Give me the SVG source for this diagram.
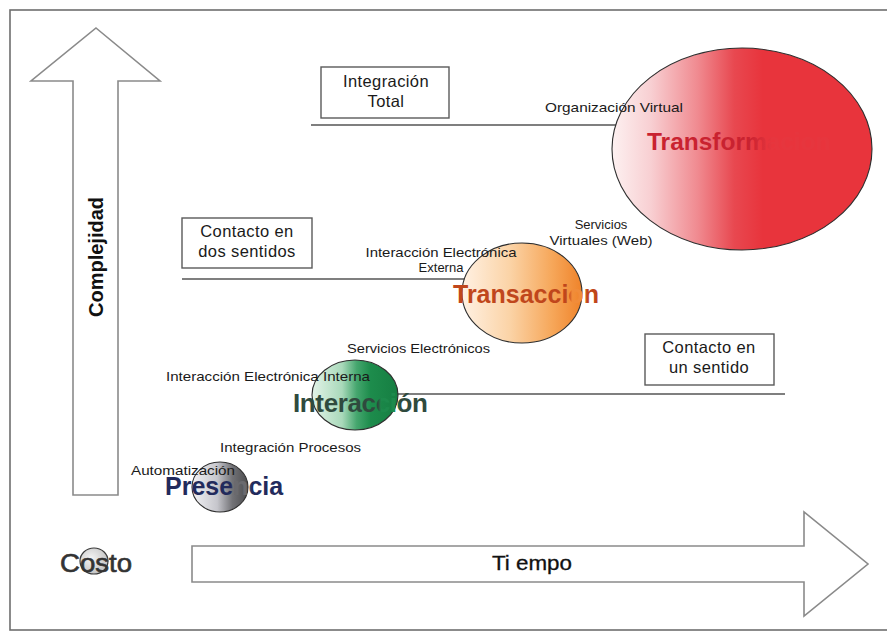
<svg xmlns="http://www.w3.org/2000/svg" width="887" height="633" viewBox="0 0 887 633">
  <style>
    .frame { fill: none; stroke: #6e6e6e; stroke-width: 1.6; }
    .arrow { fill: #ffffff; stroke: #8a8a8a; stroke-width: 1.6; stroke-linejoin: miter; }
    .box { fill: #ffffff; stroke: #5a5a5a; stroke-width: 1.4; }
    .rule { stroke: #555555; stroke-width: 1.3; fill: none; }
    .stage { stroke: #2e2e2e; stroke-width: 1.1; }
    .boxtxt { font-family: "Liberation Sans", Arial, sans-serif; font-size: 16.5px; fill: #1a1a1a; text-anchor: middle; letter-spacing: 0.4px; }
    .small { font-family: "Liberation Sans", Arial, sans-serif; font-size: 13px; fill: #1a1a1a; }
    .stagetxt { font-family: "Liberation Sans", Arial, sans-serif; font-weight: bold; }
    .axis { font-family: "Liberation Sans", Arial, sans-serif; fill: #111111; }
  </style>
  <defs>
    <linearGradient id="gRed" x1="0" y1="0" x2="1" y2="0">
      <stop offset="0" stop-color="#fdf1f1"/>
      <stop offset="0.15" stop-color="#f8cfd2"/>
      <stop offset="0.33" stop-color="#f08a90"/>
      <stop offset="0.47" stop-color="#e84850"/>
      <stop offset="0.58" stop-color="#e8343c"/>
      <stop offset="1" stop-color="#e8343c"/>
    </linearGradient>
    <linearGradient id="gOrange" x1="0" y1="0" x2="1" y2="0">
      <stop offset="0" stop-color="#fff1e3"/>
      <stop offset="0.4" stop-color="#fbd3a6"/>
      <stop offset="0.75" stop-color="#f6a75a"/>
      <stop offset="1" stop-color="#ef832a"/>
    </linearGradient>
    <linearGradient id="gGreen" x1="0" y1="0" x2="1" y2="0">
      <stop offset="0" stop-color="#e3f3e8"/>
      <stop offset="0.35" stop-color="#a9d9ba"/>
      <stop offset="0.52" stop-color="#45a66e"/>
      <stop offset="0.68" stop-color="#1d8c4c"/>
      <stop offset="1" stop-color="#167e42"/>
    </linearGradient>
    <linearGradient id="gGray" x1="0" y1="0" x2="1" y2="0">
      <stop offset="0" stop-color="#f3f3f6"/>
      <stop offset="0.45" stop-color="#c6c6cc"/>
      <stop offset="0.72" stop-color="#727276"/>
      <stop offset="1" stop-color="#4c4c4e"/>
    </linearGradient>
    <radialGradient id="gCost" cx="0.4" cy="0.4" r="0.7">
      <stop offset="0" stop-color="#f4f4f4"/>
      <stop offset="1" stop-color="#bdbdbd"/>
    </radialGradient>
    <!-- stage titles fade into their bubble colour where they cross its dark side -->
    <linearGradient id="tRed" gradientUnits="userSpaceOnUse" x1="0" y1="0" x2="887" y2="0">
      <stop offset="0" stop-color="#c92230"/>
      <stop offset="0.845" stop-color="#c92230"/>
      <stop offset="0.87" stop-color="#e6363e"/>
      <stop offset="1" stop-color="#e6363e"/>
    </linearGradient>
    <linearGradient id="tOrange" gradientUnits="userSpaceOnUse" x1="0" y1="0" x2="887" y2="0">
      <stop offset="0" stop-color="#c0461c"/>
      <stop offset="0.6415" stop-color="#c0461c"/>
      <stop offset="0.645" stop-color="#f08c3a"/>
      <stop offset="0.6584" stop-color="#f08c3a"/>
      <stop offset="0.6618" stop-color="#c0461c"/>
      <stop offset="1" stop-color="#c0461c"/>
    </linearGradient>
    <linearGradient id="tGreen" gradientUnits="userSpaceOnUse" x1="0" y1="0" x2="887" y2="0">
      <stop offset="0" stop-color="#2f4a3e"/>
      <stop offset="0.4262" stop-color="#2f4a3e"/>
      <stop offset="0.4296" stop-color="#1d8a4c"/>
      <stop offset="0.4476" stop-color="#1d8a4c"/>
      <stop offset="0.451" stop-color="#2f4a3e"/>
      <stop offset="1" stop-color="#2f4a3e"/>
    </linearGradient>
    <linearGradient id="tGray" gradientUnits="userSpaceOnUse" x1="0" y1="0" x2="887" y2="0">
      <stop offset="0" stop-color="#222a5c"/>
      <stop offset="0.2604" stop-color="#222a5c"/>
      <stop offset="0.2649" stop-color="#6a6a6e"/>
      <stop offset="0.2796" stop-color="#6a6a6e"/>
      <stop offset="0.2841" stop-color="#222a5c"/>
      <stop offset="1" stop-color="#222a5c"/>
    </linearGradient>
  </defs>

  <rect width="887" height="633" fill="#ffffff"/>
  <rect class="frame" x="10" y="10" width="900" height="620"/>

  <!-- axes -->
  <g id="axis-complejidad">
    <polygon class="arrow" points="96,28 160,81 118,81 118,495 73,495 73,81 31,81"/>
    <text class="axis" transform="translate(103,257) rotate(-90)" text-anchor="middle" font-size="20" font-weight="bold">Complejidad</text>
  </g>
  <g id="axis-tiempo">
    <polygon class="arrow" points="192,546 804,546 804,512 868,564 804,616 804,582 192,582"/>
    <text class="axis" x="532" y="570" text-anchor="middle" font-size="20" stroke="#111111" stroke-width="0.3" textLength="80" lengthAdjust="spacingAndGlyphs">Ti empo</text>
  </g>
  <g id="axis-costo">
    <ellipse cx="94" cy="561" rx="14" ry="13" fill="url(#gCost)" stroke="#3a3a3a" stroke-width="1.2"/>
    <text x="60" y="572" font-family="Liberation Sans, Arial, sans-serif" font-size="25" fill="#333333" stroke="#333333" stroke-width="0.6" textLength="72" lengthAdjust="spacingAndGlyphs">Costo</text>
  </g>

  <!-- level rules -->
  <g id="connectors">
    <line class="rule" x1="311" y1="125" x2="699" y2="125"/>
    <line class="rule" x1="182" y1="279" x2="484" y2="279"/>
    <line class="rule" x1="395" y1="394" x2="785" y2="394"/>
  </g>

  <!-- level boxes -->
  <g id="box-integracion-total">
    <rect class="box" x="321" y="67" width="128" height="51"/>
    <text class="boxtxt" x="386" y="87">Integración</text>
    <text class="boxtxt" x="386" y="107">Total</text>
  </g>
  <g id="box-dos-sentidos">
    <rect class="box" x="182" y="218" width="130" height="50"/>
    <text class="boxtxt" x="247" y="237">Contacto en</text>
    <text class="boxtxt" x="247" y="257">dos sentidos</text>
  </g>
  <g id="box-un-sentido">
    <rect class="box" x="645" y="334" width="129" height="51"/>
    <text class="boxtxt" x="709" y="353">Contacto en</text>
    <text class="boxtxt" x="709" y="373">un sentido</text>
  </g>

  <!-- stages -->
  <g id="stage-transformacion">
    <ellipse class="stage" cx="742" cy="149" rx="130" ry="101" fill="url(#gRed)"/>
    <text class="small" x="545" y="112" textLength="138" lengthAdjust="spacingAndGlyphs">Organización Virtual</text>
    <text class="stagetxt" x="647" y="150" font-size="24.5" fill="url(#tRed)">Transformacion</text>
    <text class="small" x="601" y="229" text-anchor="middle">Servicios</text>
    <text class="small" x="601" y="245" text-anchor="middle" textLength="103" lengthAdjust="spacingAndGlyphs">Virtuales (Web)</text>
  </g>

  <g id="stage-transaccion">
    <ellipse class="stage" cx="522" cy="293" rx="60" ry="50" fill="url(#gOrange)"/>
    <text class="small" x="441" y="257" text-anchor="middle" textLength="151" lengthAdjust="spacingAndGlyphs">Interacción Electrónica</text>
    <text class="small" x="441" y="272" text-anchor="middle">Externa</text>
    <text class="stagetxt" x="453" y="303" font-size="25" fill="url(#tOrange)">Transaccion</text>
  </g>

  <g id="stage-interaccion">
    <ellipse class="stage" cx="355" cy="395" rx="43" ry="35" fill="url(#gGreen)"/>
    <text class="small" x="347" y="353" textLength="143" lengthAdjust="spacingAndGlyphs">Servicios Electrónicos</text>
    <text class="small" x="166" y="381" textLength="204" lengthAdjust="spacingAndGlyphs">Interacción Electrónica Interna</text>
    <text class="stagetxt" x="293" y="412" font-size="26" fill="url(#tGreen)" textLength="135" lengthAdjust="spacing">Interacción</text>
  </g>

  <g id="stage-presencia">
    <ellipse class="stage" cx="220" cy="487" rx="28" ry="25" fill="url(#gGray)"/>
    <text class="small" x="220" y="452" textLength="141" lengthAdjust="spacingAndGlyphs">Integración Procesos</text>
    <text class="small" x="131" y="475" textLength="104" lengthAdjust="spacingAndGlyphs">Automatización</text>
    <text class="stagetxt" x="165" y="495" font-size="25" fill="url(#tGray)">Presencia</text>
  </g>
</svg>
